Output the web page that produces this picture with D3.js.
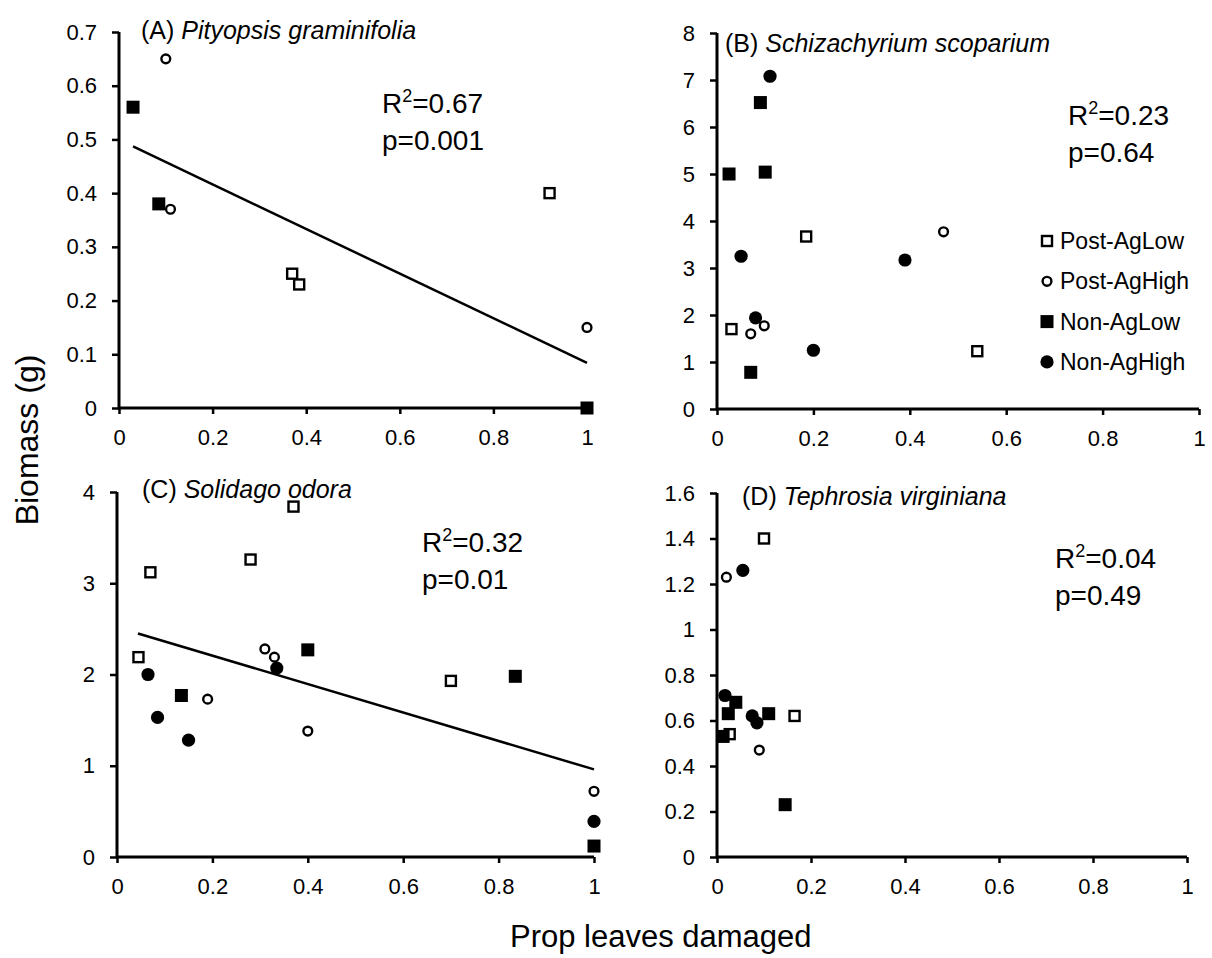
<!DOCTYPE html>
<html><head><meta charset="utf-8">
<script src="https://cdn.jsdelivr.net/npm/d3@7"></script>
<style>
html,body{margin:0;padding:0;background:#fff;}
svg{display:block;font-family:"Liberation Sans",Arial,sans-serif;}
</style></head>
<body>
<svg id="chart" width="1212" height="958"></svg>
<script>
// ---------- data ----------
const groups = ["Post-AgLow", "Post-AgHigh", "Non-AgLow", "Non-AgHigh"];
const xTicks = [0, 0.2, 0.4, 0.6, 0.8, 1];
const xTickLabels = ["0", "0.2", "0.4", "0.6", "0.8", "1"];

const aYTicks = [0, 0.1, 0.2, 0.3, 0.4, 0.5, 0.6, 0.7];
const bYTicks = [0, 1, 2, 3, 4, 5, 6, 7, 8];
const cYTicks = [0, 1, 2, 3, 4];
const dYTicks = [0, 0.2, 0.4, 0.6, 0.8, 1, 1.2, 1.4, 1.6];

const aLabel = "(A)", aSpecies = "Pityopsis graminifolia";
const bLabel = "(B)", bSpecies = "Schizachyrium scoparium";
const cLabel = "(C)", cSpecies = "Solidago odora";
const dLabel = "(D)", dSpecies = "Tephrosia virginiana";

const aStats = ["0.67", "0.001"];
const bStats = ["0.23", "0.64"];
const cStats = ["0.32", "0.01"];
const dStats = ["0.04", "0.49"];

// [prop leaves damaged, biomass]
const aPostAgLow  = [[0.37, 0.25], [0.385, 0.23], [0.92, 0.40]];
const aPostAgHigh = [[0.10, 0.65], [0.11, 0.37], [1.0, 0.15]];
const aNonAgLow   = [[0.03, 0.56], [0.085, 0.38], [1.0, 0.0]];
const aNonAgHigh  = [];

const bPostAgLow  = [[0.185, 3.67], [0.03, 1.70], [0.54, 1.23]];
const bPostAgHigh = [[0.47, 3.77], [0.098, 1.77], [0.07, 1.60]];
const bNonAgLow   = [[0.09, 6.52], [0.025, 5.0], [0.10, 5.04], [0.07, 0.78]];
const bNonAgHigh  = [[0.11, 7.08], [0.05, 3.25], [0.39, 3.17], [0.08, 1.94], [0.20, 1.25]];

const cPostAgLow  = [[0.37, 3.84], [0.28, 3.26], [0.07, 3.12], [0.045, 2.19], [0.70, 1.93]];
const cPostAgHigh = [[0.31, 2.28], [0.33, 2.19], [0.19, 1.73], [0.40, 1.38], [1.0, 0.72]];
const cNonAgLow   = [[0.40, 2.27], [0.135, 1.77], [0.835, 1.98], [1.0, 0.12]];
const cNonAgHigh  = [[0.335, 2.07], [0.065, 2.0], [0.085, 1.53], [0.15, 1.28], [1.0, 0.39]];

const dPostAgLow  = [[0.10, 1.40], [0.165, 0.62], [0.027, 0.54]];
const dPostAgHigh = [[0.02, 1.23], [0.09, 0.47]];
const dNonAgLow   = [[0.04, 0.68], [0.024, 0.63], [0.11, 0.63], [0.013, 0.53], [0.145, 0.23]];
const dNonAgHigh  = [[0.055, 1.26], [0.017, 0.71], [0.075, 0.62], [0.085, 0.59]];

const aTrend = [[0.03, 0.487], [1.0, 0.084]];
const cTrend = [[0.044, 2.45], [1.0, 0.96]];

const xTitle = "Prop leaves damaged";
const yTitle = "Biomass (g)";

// ---------- layout ----------
const panels = [
  {label:aLabel, species:aSpecies, stats:aStats, yTicks:aYTicks, series:[aPostAgLow,aPostAgHigh,aNonAgLow,aNonAgHigh], trend:aTrend,
   x0:119, x1:587, yb:408, yt:32, titleX:141, titleY:39, statX:382, statY:113, legend:false},
  {label:bLabel, species:bSpecies, stats:bStats, yTicks:bYTicks, series:[bPostAgLow,bPostAgHigh,bNonAgLow,bNonAgHigh], trend:null,
   x0:717, x1:1199, yb:409, yt:33, titleX:725, titleY:52, statX:1068, statY:125, legend:true},
  {label:cLabel, species:cSpecies, stats:cStats, yTicks:cYTicks, series:[cPostAgLow,cPostAgHigh,cNonAgLow,cNonAgHigh], trend:cTrend,
   x0:117, x1:594, yb:857, yt:492, titleX:142, titleY:498, statX:422, statY:552, legend:false},
  {label:dLabel, species:dSpecies, stats:dStats, yTicks:dYTicks, series:[dPostAgLow,dPostAgHigh,dNonAgLow,dNonAgHigh], trend:null,
   x0:717, x1:1187, yb:857, yt:493, titleX:742, titleY:505, statX:1055, statY:568, legend:false}
];

const svg = d3.select("#chart");

function drawMarker(g, type, cx, cy) {
  if (type === 0) {
    g.append("rect").attr("x", cx-5).attr("y", cy-5).attr("width", 10).attr("height", 10)
      .attr("fill", "#fff").attr("stroke", "#000").attr("stroke-width", 2.4);
  } else if (type === 1) {
    g.append("circle").attr("cx", cx).attr("cy", cy).attr("r", 4.4)
      .attr("fill", "#fff").attr("stroke", "#000").attr("stroke-width", 2.4);
  } else if (type === 2) {
    g.append("rect").attr("x", cx-6.5).attr("y", cy-6.5).attr("width", 13).attr("height", 13)
      .attr("fill", "#000");
  } else {
    g.append("circle").attr("cx", cx).attr("cy", cy).attr("r", 6.6).attr("fill", "#000");
  }
}

panels.forEach(p => {
  const ymax = p.yTicks[p.yTicks.length-1];
  const x = d3.scaleLinear().domain([0, 1]).range([p.x0, p.x1]);
  const y = d3.scaleLinear().domain([0, ymax]).range([p.yb, p.yt]);
  const g = svg.append("g");

  const xAxis = d3.axisBottom(x).tickValues(xTicks).tickSize(6).tickPadding(15)
    .tickFormat((d,i) => xTickLabels[i]);
  const yAxis = d3.axisLeft(y).tickValues(p.yTicks).tickSize(7).tickPadding(15)
    .tickFormat(d => d3.format("~g")(d));

  const gx = g.append("g").attr("transform", `translate(0,${p.yb})`).call(xAxis);
  const gy = g.append("g").attr("transform", `translate(${p.x0},0)`).call(yAxis);
  [gx, gy].forEach(a => {
    a.select(".domain").remove();
    a.selectAll(".tick line").attr("stroke", "#000").attr("stroke-width", 2.5);
    a.selectAll(".tick text").attr("fill", "#000").attr("font-size", 22)
      .attr("font-family", "Liberation Sans, Arial, sans-serif");
  });
  g.append("line").attr("x1", x(0)).attr("x2", x(1)).attr("y1", y(0)).attr("y2", y(0))
    .attr("stroke", "#000").attr("stroke-width", 3);
  g.append("line").attr("x1", x(0)).attr("x2", x(0)).attr("y1", y(0)+1.5).attr("y2", y(ymax))
    .attr("stroke", "#000").attr("stroke-width", 3);

  if (p.trend) {
    g.append("path").datum(p.trend)
      .attr("d", d3.line().x(d => x(d[0])).y(d => y(d[1])))
      .attr("fill", "none").attr("stroke", "#000").attr("stroke-width", 2.5);
  }

  p.series.forEach((s, si) => {
    s.forEach(d => drawMarker(g, si, x(d[0]), y(d[1])));
  });

  const t = g.append("text").attr("x", p.titleX).attr("y", p.titleY)
    .attr("font-size", 25).attr("fill", "#000");
  t.append("tspan").text(p.label + " ");
  t.append("tspan").attr("font-style", "italic").text(p.species);

  const r = g.append("text").attr("x", p.statX).attr("y", p.statY).attr("font-size", 28).attr("fill", "#000");
  r.append("tspan").text("R");
  r.append("tspan").attr("font-size", 18).attr("dy", -11).text("2");
  r.append("tspan").attr("dy", 11).text("=" + p.stats[0]);
  g.append("text").attr("x", p.statX).attr("y", p.statY + 37).attr("font-size", 28).attr("fill", "#000")
    .text("p=" + p.stats[1]);

  if (p.legend) {
    groups.forEach((name, i) => {
      const cy = 241 + i * 40.3;
      drawMarker(g, i, 1047, cy);
      g.append("text").attr("x", 1060).attr("y", cy).attr("dy", "0.35em")
        .attr("font-size", 23).attr("fill", "#000").text(name);
    });
  }
});

svg.append("text").attr("transform", "translate(38,440) rotate(-90)")
  .attr("text-anchor", "middle").attr("font-size", 32).attr("fill", "#000").text(yTitle);
svg.append("text").attr("x", 510).attr("y", 947)
  .attr("font-size", 31).attr("fill", "#000").text(xTitle);
</script>
</body></html>
